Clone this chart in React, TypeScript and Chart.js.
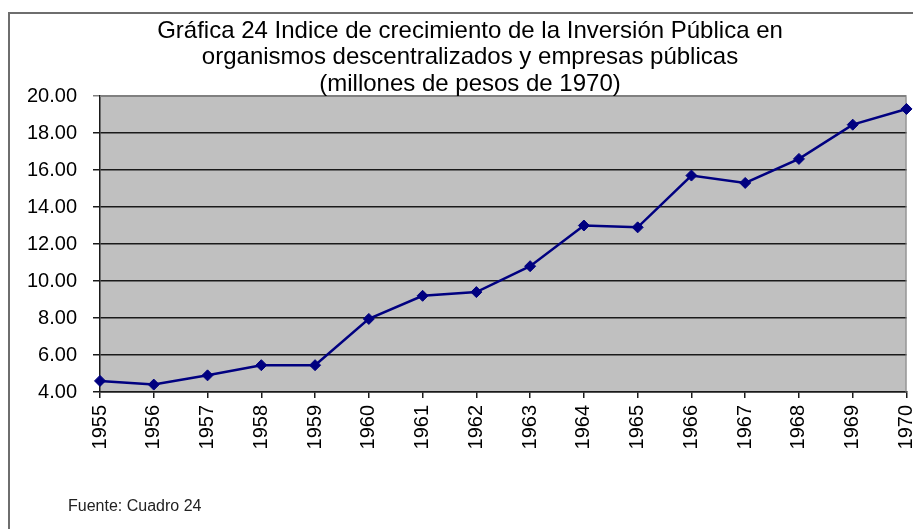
import React, { useEffect, useRef } from "react";
import { Chart, registerables } from "chart.js";

Chart.register(...registerables);

const titleLines = [
  "Gráfica 24 Indice de crecimiento de la Inversión Pública en",
  "organismos descentralizados y empresas públicas",
  "(millones de pesos de 1970)",
];
const years = [
  "1955", "1956", "1957", "1958", "1959", "1960", "1961", "1962",
  "1963", "1964", "1965", "1966", "1967", "1968", "1969", "1970",
];
const values = [
  4.6, 4.4, 4.9, 5.45, 5.45, 7.95, 9.2, 9.4,
  10.8, 13.0, 12.9, 15.7, 15.3, 16.6, 18.45, 19.3,
];
const yMin = 4;
const yMax = 20;
const yStep = 2;
const sourceNote = "Fuente: Cuadro 24";

const FONT = "'Liberation Sans', Arial, sans-serif";

const framePlugin = {
  id: "framePlugin",
  afterLayout(chart: any) {
    const t = chart.titleBlock;
    if (t) {
      t.left = 32;
      t.right = 908;
    }
  },
  beforeDraw(chart: any) {
    const { ctx, chartArea } = chart;
    ctx.save();
    ctx.fillStyle = "#ffffff";
    ctx.fillRect(0, 0, chart.width, chart.height);
    ctx.strokeStyle = "#6e6e6e";
    ctx.lineWidth = 2;
    ctx.beginPath();
    ctx.moveTo(9, chart.height);
    ctx.lineTo(9, 13);
    ctx.lineTo(chart.width, 13);
    ctx.stroke();
    ctx.fillStyle = "#c0c0c0";
    ctx.fillRect(
      chartArea.left,
      chartArea.top,
      chartArea.right - chartArea.left,
      chartArea.bottom - chartArea.top
    );
    ctx.restore();
  },
  beforeDatasetsDraw(chart: any) {
    const { ctx, chartArea } = chart;
    ctx.save();
    ctx.strokeStyle = "#808080";
    ctx.lineWidth = 1;
    ctx.beginPath();
    ctx.moveTo(chartArea.left, chartArea.top + 0.5);
    ctx.lineTo(chartArea.right - 0.5, chartArea.top + 0.5);
    ctx.lineTo(chartArea.right - 0.5, chartArea.bottom);
    ctx.stroke();
    ctx.restore();
  },
};

export default function App() {
  const ref = useRef<HTMLCanvasElement | null>(null);

  useEffect(() => {
    if (!ref.current) return;
    const chart = new Chart(ref.current, {
      type: "line",
      data: {
        labels: years,
        datasets: [
          {
            data: values,
            borderColor: "#000080",
            backgroundColor: "#000080",
            borderWidth: 2.5,
            pointStyle: "rectRot",
            pointRadius: 5.5,
            pointBackgroundColor: "#000080",
            pointBorderColor: "#000080",
            pointBorderWidth: 1,
            tension: 0,
            clip: false as any,
          },
        ],
      },
      options: {
        responsive: false,
        animation: false,
        layout: { padding: { left: 10, right: 5, top: 0, bottom: 0 } },
        plugins: {
          legend: { display: false },
          tooltip: { enabled: false },
          title: {
            display: true,
            text: titleLines,
            color: "#000000",
            font: { family: FONT, size: 24, weight: "normal", lineHeight: "26.5px" },
            padding: { top: 18, bottom: -1.5 },
          },
        },
        scales: {
          x: {
            offset: false,
            grid: {
              drawOnChartArea: false,
              drawTicks: true,
              tickLength: 6,
              color: "#1a1a1a",
              lineWidth: 1.5,
            },
            border: { display: true, color: "#1a1a1a", width: 1.5 },
            ticks: {
              color: "#000000",
              font: { family: FONT, size: 20 },
              maxRotation: 90,
              minRotation: 90,
              autoSkip: false,
              padding: 7,
            },
            afterFit(scale: any) {
              scale.height = 137;
              scale.paddingLeft = 0;
              scale.paddingRight = 0;
            },
          },
          y: {
            min: yMin,
            max: yMax,
            grid: {
              drawTicks: true,
              tickLength: 7,
              color: (c: any) =>
                c.tick && c.tick.value === yMax ? "#808080" : "#1a1a1a",
              lineWidth: 1.5,
            },
            border: { display: true, color: "#1a1a1a", width: 1.5 },
            ticks: {
              stepSize: yStep,
              color: "#000000",
              font: { family: FONT, size: 20 },
              padding: 16,
              callback: (v: any) => Number(v).toFixed(2),
            },
            afterFit(scale: any) {
              scale.width = 90;
            },
          },
        },
      },
      plugins: [framePlugin],
    });
    return () => chart.destroy();
  }, []);

  return (
    <div>
      <canvas
        ref={ref}
        width={913}
        height={529}
        style={{ position: "fixed", left: 0, top: 0, display: "block" }}
      />
      <div
        style={{
          position: "fixed",
          left: 68,
          top: 497,
          fontFamily: FONT,
          fontSize: 16,
          color: "#222222",
          whiteSpace: "nowrap",
        }}
      >
        {sourceNote}
      </div>
    </div>
  );
}
